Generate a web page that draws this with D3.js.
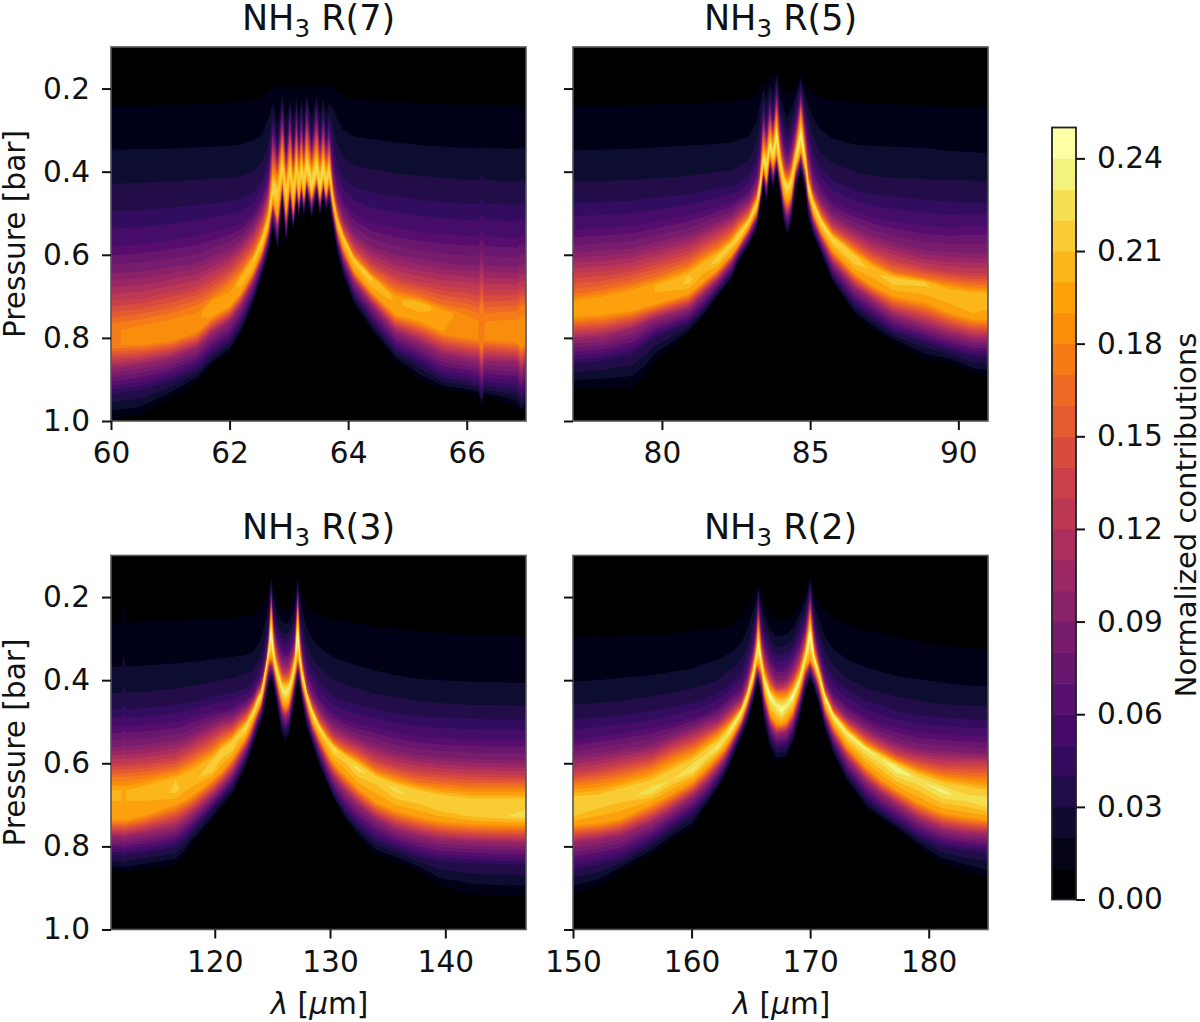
<!DOCTYPE html>
<meta charset="utf-8">
<script src="https://d3js.org/d3.v7.min.js"></script>
<style>
  body { margin: 0; background: #fff; }
  text { font-family: "DejaVu Sans", sans-serif; fill: #111; }
</style>
<div id="chart"></div>

<script>
    // each column at one wavelength:
    // [lambda, pressures where the upper side crosses levelsUp,
    //  pressure and value of the column's peak, pressures where the lower side crosses levelsLow]
    const levelsUp = [0.01, 0.02, 0.03, 0.04, 0.06, 0.09, 0.13, 0.17, 0.21];
    const levelsLow = [0.19, 0.10, 0.04, 0.01];

    const r7Columns = [
        [60, .242,.347,.429,.495,.58,.645,.71,.765,.785, .805,.178, .82,.875,.935,.995],
        [60.5, .241,.346,.427,.492,.575,.64,.705,.755,.775, .795,.184, .815,.865,.925,.985],
        [61, .239,.344,.424,.487,.565,.63,.69,.74,.765, .79,.186, .805,.85,.905,.945],
        [61.45, .238,.342,.42,.48,.555,.62,.675,.72,.75, .765,.186, .785,.825,.875,.905],
        [61.7, .236,.34,.417,.477,.545,.605,.655,.70,.715, .725,.198, .75,.79,.84,.865],
        [62, .234,.338,.415,.472,.535,.585,.63,.665,.69, .70,.19, .725,.76,.81,.835],
        [62.2, .232,.335,.41,.465,.525,.565,.60,.635,.655, .667,.206, .69,.72,.765,.79],
        [62.4, .227,.325,.40,.45,.50,.53,.565,.595,.61, .62,.21, .64,.665,.70,.72],
        [62.55, .218,.31,.375,.42,.46,.49,.52,.545,.56, .57,.215, .59,.61,.635,.65],
        [62.65, .205,.275,.335,.375,.415,.445,.47,.495,.51, .52,.22, .54,.56,.585,.60],
        [62.73, .19,.235,.255,.27,.295,.32,.35,.385,.42, .445,.225, .47,.49,.52,.54],
        [62.81, .203,.285,.32,.34,.355,.375,.395,.41,.44, .465,.215, .51,.54,.57,.593],
        [62.89, .185,.215,.228,.235,.255,.28,.305,.33,.37, .39,.225, .42,.44,.46,.48],
        [62.955, .205,.28,.32,.34,.355,.375,.395,.41,.44, .465,.215, .50,.53,.56,.57],
        [63.02, .19,.225,.238,.244,.265,.29,.315,.345,.375, .40,.22, .43,.45,.47,.49],
        [63.075, .205,.275,.31,.33,.35,.37,.39,.405,.43, .455,.215, .49,.515,.53,.545],
        [63.13, .188,.22,.235,.24,.26,.285,.31,.34,.37, .395,.225, .425,.445,.465,.48],
        [63.17, .203,.27,.30,.32,.34,.355,.375,.39,.415, .44,.215, .465,.485,.50,.52],
        [63.21, .19,.225,.24,.25,.27,.295,.32,.345,.375, .40,.225, .425,.44,.455,.47],
        [63.255, .203,.265,.30,.32,.335,.35,.37,.385,.41, .44,.215, .46,.48,.495,.515],
        [63.30, .185,.215,.225,.23,.25,.275,.30,.33,.36, .385,.23, .415,.43,.445,.46],
        [63.385, .205,.27,.30,.32,.335,.35,.37,.385,.41, .44,.225, .46,.48,.50,.52],
        [63.47, .186,.218,.23,.235,.255,.28,.305,.335,.365, .39,.23, .415,.43,.445,.46],
        [63.525, .203,.265,.30,.32,.335,.35,.37,.385,.41, .44,.225, .46,.48,.495,.512],
        [63.58, .19,.225,.24,.25,.27,.295,.32,.345,.37, .395,.23, .42,.435,.45,.465],
        [63.63, .202,.26,.30,.32,.335,.35,.37,.385,.41, .435,.22, .455,.47,.485,.50],
        [63.68, .19,.235,.255,.27,.29,.315,.335,.36,.38, .395,.23, .42,.44,.46,.48],
        [63.75, .197,.25,.30,.335,.385,.42,.44,.455,.465, .47,.22, .49,.505,.525,.54],
        [63.82, .208,.275,.335,.385,.43,.47,.49,.505,.515, .52,.218, .54,.56,.58,.60],
        [63.92, .218,.30,.365,.415,.47,.51,.535,.55,.555, .56,.218, .585,.61,.635,.655],
        [64.1, .224,.315,.385,.44,.50,.55,.58,.60,.61, .615,.214, .64,.665,.70,.72],
        [64.4, .228,.322,.395,.45,.525,.58,.62,.645,.655, .667,.21, .69,.72,.76,.785],
        [64.8, .232,.33,.405,.46,.535,.60,.65,.685,.705, .72,.198, .745,.785,.83,.855],
        [65.2, .235,.336,.41,.468,.545,.61,.665,.70,.715, .727,.205, .76,.81,.86,.90],
        [65.6, .237,.34,.415,.473,.55,.62,.675,.72,.735, .745,.195, .785,.84,.895,.925],
        [66, .239,.343,.42,.478,.555,.625,.68,.73,.75, .765,.183, .80,.85,.905,.932],
        [66.2, .239,.343,.42,.478,.555,.625,.685,.74,.76, .775,.18, .805,.855,.915,.938],
        [66.25, .238,.34,.41,.465,.54,.60,.655,.71,.745, .775,.175, .83,.885,.94,.965],
        [66.3, .239,.343,.42,.478,.555,.625,.685,.74,.76, .775,.18, .805,.855,.915,.94],
        [66.85, .24,.345,.425,.48,.56,.63,.685,.735,.76, .78,.182, .81,.86,.925,.965],
        [66.92, .238,.34,.42,.47,.55,.62,.675,.72,.75, .775,.18, .825,.885,.945,.985],
        [67, .24,.345,.427,.483,.564,.62,.677,.725,.755, .78,.184, .81,.86,.93,.967]
    ];

    const r5Columns = [
        [77, .242,.349,.425,.475,.54,.596,.644,.695,.715, .725,.196, .75,.805,.862,.922],
        [78, .241,.347,.423,.473,.535,.59,.64,.685,.705, .72,.195, .745,.80,.855,.92],
        [79, .24,.345,.42,.47,.53,.585,.63,.67,.69, .705,.198, .735,.78,.84,.918],
        [79.45, .239,.343,.418,.465,.525,.575,.62,.66,.68, .695,.199, .725,.765,.815,.89],
        [79.75, .238,.342,.417,.463,.52,.57,.615,.655,.675, .69,.20, .72,.755,.80,.858],
        [80.9, .236,.337,.41,.455,.505,.55,.59,.625,.65, .667,.212, .695,.73,.765,.79],
        [81.4, .234,.335,.405,.448,.495,.535,.57,.60,.62, .635,.205, .665,.695,.73,.75],
        [81.9, .232,.333,.40,.44,.485,.52,.55,.58,.60, .612,.218, .635,.66,.685,.70],
        [82.35, .23,.33,.397,.435,.475,.505,.53,.555,.57, .58,.212, .60,.62,.645,.66],
        [82.55, .228,.325,.39,.43,.465,.49,.515,.535,.55, .56,.222, .58,.595,.61,.625],
        [82.93, .226,.315,.372,.41,.445,.47,.49,.505,.515, .52,.225, .535,.55,.57,.58],
        [83.2, .21,.28,.325,.365,.405,.43,.45,.46,.47, .475,.23, .495,.51,.525,.54],
        [83.3, .195,.24,.285,.32,.36,.39,.41,.42,.43, .435,.235, .46,.47,.485,.50],
        [83.42, .185,.20,.22,.235,.255,.28,.30,.33,.355, .37,.23, .39,.405,.42,.44],
        [83.53, .185,.225,.26,.28,.30,.32,.335,.35,.37, .385,.23, .42,.44,.46,.48],
        [83.64, .172,.19,.205,.215,.235,.255,.275,.295,.32, .335,.235, .36,.375,.39,.41],
        [83.75, .175,.21,.24,.26,.28,.295,.31,.325,.345, .36,.23, .385,.41,.43,.45],
        [83.87, .157,.165,.175,.185,.20,.22,.24,.26,.29, .31,.24, .355,.37,.385,.40],
        [84, .19,.225,.25,.265,.285,.31,.335,.355,.37, .38,.23, .41,.43,.45,.47],
        [84.12, .205,.25,.28,.30,.33,.36,.385,.40,.415, .425,.225, .46,.485,.51,.53],
        [84.23, .214,.27,.30,.32,.35,.38,.40,.415,.43, .44,.225, .475,.505,.535,.556],
        [84.35, .205,.25,.28,.30,.33,.36,.385,.40,.415, .425,.225, .46,.485,.51,.53],
        [84.5, .19,.22,.24,.26,.285,.31,.33,.345,.36, .37,.23, .395,.41,.43,.45],
        [84.69, .165,.175,.185,.195,.21,.225,.24,.255,.285, .31,.24, .35,.365,.385,.40],
        [84.85, .185,.22,.245,.265,.29,.315,.335,.355,.37, .38,.235, .40,.42,.44,.46],
        [84.94, .195,.24,.27,.295,.33,.365,.395,.415,.425, .435,.235, .455,.47,.495,.52],
        [85.1, .21,.27,.315,.355,.395,.43,.45,.46,.47, .475,.23, .50,.52,.54,.555],
        [85.37, .222,.30,.355,.39,.435,.47,.49,.505,.515, .52,.228, .545,.565,.585,.60],
        [85.75, .228,.32,.38,.42,.47,.505,.53,.545,.555, .564,.222, .59,.62,.65,.665],
        [86.5, .234,.335,.40,.445,.495,.535,.565,.585,.60, .612,.218, .645,.68,.72,.745],
        [87.1, .236,.338,.41,.455,.51,.555,.59,.615,.63, .64,.208, .675,.71,.75,.78],
        [87.8, .238,.34,.415,.46,.52,.57,.61,.64,.655, .665,.215, .70,.745,.785,.81],
        [88.85, .24,.343,.418,.468,.53,.59,.63,.655,.665, .672,.212, .715,.77,.81,.85],
        [89.7, .243,.35,.42,.472,.535,.593,.64,.665,.685, .705,.205, .74,.79,.83,.86],
        [90.46, .245,.353,.422,.475,.53,.596,.644,.673,.695, .725,.21, .755,.803,.845,.885],
        [91, .246,.355,.423,.475,.53,.596,.644,.673,.695, .72,.205, .757,.805,.846,.894]
    ];

    const r3Columns = [
        [111, .262,.368,.431,.47,.511,.56,.60,.632,.665, .69,.20, .737,.777,.821,.861],
        [111.9, .262,.368,.431,.47,.511,.56,.60,.632,.665, .69,.20, .737,.777,.821,.861],
        [112.1, .205,.34,.415,.46,.505,.555,.598,.632,.665, .69,.198, .737,.78,.825,.865],
        [112.3, .262,.368,.431,.47,.511,.56,.60,.632,.665, .69,.20, .737,.777,.821,.861],
        [114, .26,.365,.428,.467,.508,.555,.595,.628,.655, .683,.202, .725,.77,.815,.855],
        [116.6, .258,.36,.42,.46,.50,.545,.585,.615,.64, .668,.212, .70,.755,.80,.845],
        [117.3, .257,.358,.417,.457,.497,.54,.575,.605,.63, .655,.208, .69,.74,.785,.825],
        [118, .256,.356,.413,.453,.49,.53,.565,.595,.62, .645,.205, .68,.725,.765,.795],
        [119.8, .254,.35,.405,.44,.475,.505,.535,.565,.59, .612,.22, .64,.68,.71,.74],
        [120.6, .252,.347,.40,.435,.47,.495,.52,.545,.565, .585,.212, .62,.655,.685,.71],
        [121.5, .25,.344,.395,.43,.465,.49,.51,.53,.545, .56,.222, .59,.625,.655,.68],
        [122.1, .248,.342,.39,.425,.455,.475,.495,.51,.525, .535,.216, .565,.595,.625,.645],
        [122.7, .245,.34,.385,.42,.445,.465,.48,.495,.505, .515,.226, .54,.565,.59,.61],
        [123.1, .243,.335,.38,.41,.435,.45,.465,.475,.485, .49,.222, .515,.54,.56,.58],
        [123.4, .24,.33,.37,.40,.425,.44,.45,.46,.47, .475,.235, .495,.515,.535,.555],
        [123.7, .232,.315,.355,.38,.405,.42,.43,.44,.445, .45,.23, .475,.49,.51,.53],
        [124, .225,.302,.342,.365,.39,.405,.415,.425,.43, .435,.24, .455,.47,.49,.51],
        [124.2, .215,.28,.32,.345,.37,.385,.395,.40,.405, .41,.235, .43,.445,.465,.485],
        [124.5, .198,.245,.275,.30,.325,.34,.35,.355,.358, .36,.24, .38,.40,.425,.445],
        [124.7, .178,.21,.235,.25,.27,.285,.30,.31,.318, .325,.245, .35,.37,.395,.415],
        [124.9, .149,.155,.16,.17,.18,.195,.21,.225,.25, .285,.25, .345,.365,.385,.40],
        [125.07, .17,.20,.22,.235,.25,.265,.28,.295,.315, .33,.245, .355,.375,.395,.415],
        [125.27, .19,.225,.25,.265,.285,.305,.325,.34,.355, .365,.24, .385,.405,.425,.445],
        [125.56, .215,.245,.27,.285,.31,.335,.355,.37,.385, .395,.235, .42,.445,.47,.495],
        [125.85, .228,.26,.285,.30,.33,.355,.38,.395,.41, .42,.235, .455,.48,.51,.54],
        [126.14, .23,.265,.29,.305,.335,.36,.385,.40,.415, .43,.235, .465,.49,.52,.552],
        [126.43, .228,.26,.285,.30,.33,.355,.38,.395,.41, .42,.235, .455,.48,.51,.54],
        [126.7, .215,.245,.27,.285,.31,.335,.355,.37,.385, .395,.235, .42,.445,.47,.495],
        [126.95, .19,.225,.25,.265,.285,.305,.325,.34,.35, .36,.24, .385,.405,.425,.445],
        [127.2, .149,.155,.16,.17,.18,.195,.21,.225,.25, .285,.25, .345,.365,.385,.40],
        [127.38, .178,.205,.225,.24,.26,.28,.30,.32,.335, .345,.245, .365,.385,.405,.42],
        [127.6, .195,.235,.265,.29,.32,.345,.36,.37,.38, .385,.24, .41,.425,.445,.46],
        [128, .218,.275,.315,.345,.38,.405,.42,.43,.432, .435,.24, .455,.475,.50,.52],
        [128.45, .235,.30,.345,.375,.41,.44,.455,.465,.472, .477,.235, .50,.52,.54,.555],
        [129.1, .245,.32,.37,.405,.445,.47,.49,.505,.51, .515,.228, .54,.565,.59,.61],
        [129.75, .25,.335,.385,.425,.465,.495,.515,.53,.54, .545,.218, .575,.605,.635,.65],
        [130.3, .254,.345,.40,.44,.48,.51,.535,.55,.558, .564,.225, .60,.635,.67,.685],
        [131.3, .259,.355,.41,.45,.495,.525,.55,.57,.58, .59,.215, .63,.67,.715,.735],
        [132.4, .263,.365,.42,.46,.505,.54,.565,.585,.60, .612,.225, .66,.70,.75,.775],
        [134, .27,.378,.433,.47,.515,.555,.59,.615,.63, .64,.215, .695,.735,.785,.82],
        [135.7, .275,.388,.44,.48,.525,.57,.605,.63,.65, .663,.225, .715,.76,.805,.835],
        [137.7, .282,.397,.45,.487,.535,.58,.615,.645,.665, .69,.215, .73,.775,.825,.86],
        [139.45, .286,.40,.455,.49,.54,.585,.62,.65,.675, .704,.218, .74,.785,.835,.895],
        [142.3, .29,.404,.46,.493,.543,.59,.625,.655,.685, .725,.214, .747,.79,.84,.915],
        [144.7, .292,.405,.46,.495,.543,.592,.627,.655,.685, .727,.218, .748,.792,.843,.918],
        [147, .294,.407,.463,.495,.544,.592,.628,.655,.685, .727,.225, .749,.793,.845,.919]
    ];

    const r2Columns = [
        [150, .298,.404,.459,.495,.544,.584,.62,.648,.68, .725,.212, .749,.793,.857,.914],
        [152.1, .296,.40,.455,.49,.535,.575,.612,.64,.675, .70,.215, .745,.785,.845,.897],
        [154, .294,.395,.45,.485,.528,.567,.60,.63,.66, .69,.212, .735,.775,.83,.86],
        [156.6, .292,.388,.44,.475,.515,.555,.585,.61,.64, .666,.228, .70,.745,.79,.82],
        [158.3, .288,.38,.43,.465,.505,.535,.56,.585,.615, .64,.22, .675,.715,.755,.785],
        [160.1, .282,.372,.42,.455,.49,.515,.54,.565,.59, .614,.232, .645,.68,.72,.755],
        [161.2, .278,.36,.41,.445,.48,.50,.525,.545,.565, .585,.225, .615,.65,.685,.705],
        [162.2, .275,.35,.40,.43,.465,.49,.51,.525,.545, .561,.232, .585,.615,.645,.665],
        [162.8, .272,.342,.385,.42,.45,.475,.495,.51,.525, .54,.228, .565,.59,.615,.635],
        [163.35, .27,.334,.375,.405,.435,.46,.48,.495,.505, .517,.235, .54,.56,.58,.60],
        [164.2, .25,.31,.35,.38,.415,.44,.455,.465,.47, .474,.24, .495,.51,.525,.54],
        [164.7, .222,.278,.318,.342,.375,.40,.415,.425,.432, .437,.245, .455,.47,.49,.505],
        [165.2, .197,.235,.265,.285,.315,.335,.35,.365,.375, .383,.24, .405,.42,.44,.455],
        [165.45, .18,.21,.23,.245,.265,.285,.305,.32,.335, .345,.24, .365,.385,.405,.42],
        [165.63, .17,.175,.18,.19,.205,.225,.24,.26,.285, .31,.245, .36,.38,.395,.41],
        [165.9, .195,.22,.24,.255,.28,.30,.32,.335,.35, .36,.24, .38,.405,.43,.45],
        [166.15, .22,.245,.265,.285,.31,.335,.36,.375,.39, .40,.24, .43,.455,.485,.51],
        [166.65, .245,.28,.30,.32,.35,.375,.40,.415,.43, .437,.245, .485,.51,.54,.57],
        [167.15, .255,.295,.32,.34,.37,.40,.42,.43,.445, .46,.235, .505,.53,.565,.595],
        [167.6, .256,.294,.32,.34,.37,.40,.42,.43,.45, .473,.245, .507,.527,.56,.596],
        [168, .255,.29,.315,.335,.365,.395,.415,.43,.445, .46,.235, .50,.525,.56,.59],
        [168.55, .24,.275,.30,.32,.345,.37,.395,.41,.425, .437,.245, .475,.50,.53,.555],
        [169.1, .215,.24,.26,.28,.31,.335,.36,.375,.39, .399,.24, .425,.45,.475,.495],
        [169.6, .19,.21,.23,.245,.265,.285,.305,.32,.335, .345,.24, .37,.39,.41,.43],
        [170, .149,.155,.165,.175,.19,.205,.225,.24,.26, .285,.245, .35,.365,.385,.40],
        [170.35, .19,.22,.24,.255,.275,.295,.315,.33,.34, .35,.245, .37,.39,.41,.425],
        [170.7, .21,.25,.28,.30,.325,.345,.355,.365,.375, .38,.24, .40,.42,.44,.46],
        [171.25, .232,.295,.33,.36,.39,.41,.42,.43,.435, .437,.245, .465,.485,.505,.52],
        [171.95, .25,.325,.365,.395,.43,.45,.465,.475,.48, .484,.24, .51,.535,.56,.58],
        [173.1, .265,.35,.395,.425,.46,.485,.50,.51,.52, .527,.235, .56,.59,.625,.645],
        [174.75, .28,.37,.42,.45,.49,.515,.535,.55,.56, .565,.235, .61,.645,.685,.71],
        [176, .288,.38,.43,.46,.505,.535,.555,.57,.58, .59,.23, .64,.675,.715,.735],
        [177.3, .295,.39,.44,.475,.515,.55,.575,.59,.60, .612,.24, .665,.70,.74,.76],
        [179.1, .305,.398,.45,.485,.525,.565,.59,.61,.625, .64,.228, .695,.735,.775,.80],
        [181.1, .315,.406,.458,.49,.53,.57,.60,.625,.645, .666,.235, .72,.76,.80,.84],
        [183.1, .322,.412,.461,.494,.534,.574,.60,.63,.655, .685,.225, .73,.77,.81,.86],
        [185, .325,.415,.463,.495,.535,.576,.60,.632,.665, .696,.23, .737,.773,.817,.877]
    ];

    const panelTitles = ["R(7)", "R(5)", "R(3)", "R(2)"];
    const panelColumns = [r7Columns, r5Columns, r3Columns, r2Columns];
    const xDomains = [[60, 67], [77, 91], [111, 147], [150, 185]];
    const xTicks = [[60, 62, 64, 66], [80, 85, 90], [120, 130, 140], [150, 160, 170, 180]];
    const pressureTicks = [0.2, 0.4, 0.6, 0.8, 1.0];
    const bandEdges = d3.range(0, 26).map(d => d / 100);
    const colorbarTicks = [0, 0.03, 0.06, 0.09, 0.12, 0.15, 0.18, 0.21, 0.24];

    const fontTick = 29.6;
    const lefts = [111, 573];
    const panelWidth = 415;
    const tops = [47, 555.5];
    const panelHeight = 374;

    const svg = d3.select("#chart")
        .append("svg")
        .attr("width", 1200)
        .attr("height", 1022);

    const defs = svg.append("defs");
    defs.append("filter")
        .attr("id", "soft")
        .attr("x", "-2%").attr("y", "-2%").attr("width", "104%").attr("height", "104%")
        .append("feGaussianBlur")
        .attr("stdDeviation", 0.7);

    const bandColor = i => d3.interpolateInferno(i / 24);

    function styleAxis(g) {
        g.selectAll("path").remove();
        g.selectAll("line").attr("stroke", "#111").attr("stroke-width", 2);
        g.selectAll("text").style("font-size", fontTick + "px").attr("fill", "#111");
    }

    function drawPanel(index) {
        const col = index % 2;
        const row = Math.floor(index / 2);
        const columns = panelColumns[index];
        const left = lefts[col];
        const top = tops[row];

        const x = d3.scaleLinear().domain(xDomains[index]).range([0, panelWidth]);
        const y = d3.scaleLinear().domain([0.1, 1.0]).range([0, panelHeight]);

        const g = svg.append("g").attr("transform", `translate(${left}, ${top})`);

        defs.append("clipPath").attr("id", "clip" + index)
            .append("rect").attr("width", panelWidth).attr("height", panelHeight);

        const plot = g.append("g").attr("clip-path", `url(#clip${index})`)
            .append("g").attr("filter", "url(#soft)");

        plot.append("rect")
            .attr("x", -5).attr("y", -5)
            .attr("width", panelWidth + 10).attr("height", panelHeight + 10)
            .attr("fill", bandColor(0));

        // rows of the curvilinear grid: top of the axis, upper crossings, peak, lower crossings, below the axis
        const nUp = levelsUp.length;
        const nx = columns.length;
        const ny = nUp + levelsLow.length + 3;
        const values = new Array(nx * ny);
        const pressures = d3.range(ny).map(() => new Array(nx));
        columns.forEach((c, i) => {
            const peak = c[nUp + 2];
            const rowP = [0.1, ...c.slice(1, nUp + 2), ...c.slice(nUp + 3), 1.2];
            const rowV = [0.004, ...levelsUp.map(l => Math.min(l, peak)), peak, ...levelsLow.map(l => Math.min(l, peak)), 0];
            rowP.forEach((p, j) => {
                pressures[j][i] = p;
                values[j * nx + i] = rowV[j];
            });
        });

        const contours = d3.contours()
            .size([nx, ny])
            .thresholds(bandEdges.slice(1, 25))(values);

        const clamp = (v, hi) => Math.max(0, Math.min(hi, v));
        const toPixel = d3.geoTransform({
            point(cx, cy) {
                const fi = clamp(cx - 0.5, nx - 1);
                const fj = clamp(cy - 0.5, ny - 1);
                const i0 = Math.min(Math.floor(fi), nx - 2), j0 = Math.min(Math.floor(fj), ny - 2);
                const ti = fi - i0, tj = fj - j0;
                const lam = columns[i0][0] * (1 - ti) + columns[i0 + 1][0] * ti;
                const pa = pressures[j0][i0] * (1 - tj) + pressures[j0 + 1][i0] * tj;
                const pb = pressures[j0][i0 + 1] * (1 - tj) + pressures[j0 + 1][i0 + 1] * tj;
                this.stream.point(x(lam), y(pa * (1 - ti) + pb * ti));
            }
        });
        const path = d3.geoPath(toPixel);

        plot.selectAll("path.band")
            .data(contours)
            .join("path")
            .attr("class", "band")
            .attr("d", path)
            .attr("fill", (d, i) => bandColor(i + 1));

        g.append("rect")
            .attr("width", panelWidth).attr("height", panelHeight)
            .attr("fill", "none").attr("stroke", "#555").attr("stroke-width", 1.6);

        g.append("g")
            .attr("transform", `translate(0, ${panelHeight})`)
            .call(d3.axisBottom(x).tickValues(xTicks[index]).tickSize(9).tickPadding(12).tickFormat(d3.format("d")))
            .call(styleAxis);

        g.append("g")
            .call(d3.axisLeft(y).tickValues(pressureTicks).tickSize(9).tickPadding(12)
                .tickFormat(col === 0 ? d3.format(".1f") : ""))
            .call(styleAxis);

        const title = g.append("text")
            .attr("x", panelWidth / 2)
            .attr("y", -17)
            .attr("text-anchor", "middle")
            .style("font-size", "35px");
        title.append("tspan").text("NH");
        title.append("tspan").attr("dy", 7).style("font-size", "24.5px").text("3");
        title.append("tspan").attr("dy", -7).text(" " + panelTitles[index]);

        if (col === 0) {
            g.append("text")
                .attr("transform", `translate(-86, ${panelHeight / 2 - 0}) rotate(-90)`)
                .attr("text-anchor", "middle")
                .style("font-size", fontTick + "px")
                .text("Pressure [bar]");
        }
        if (row === 1) {
            const label = g.append("text")
                .attr("x", panelWidth / 2 + 1)
                .attr("y", panelHeight + 84)
                .attr("text-anchor", "middle")
                .style("font-size", fontTick + "px");
            label.append("tspan").style("font-style", "italic").text("λ");
            label.append("tspan").text(" [");
            label.append("tspan").style("font-style", "italic").text("μ");
            label.append("tspan").text("m]");
        }
    }

    d3.range(4).forEach(drawPanel);

    // colour bar
    const cbY = d3.scaleLinear().domain([0, 0.25]).range([899.5, 127.5]);
    const cb = svg.append("g").attr("transform", "translate(1052, 0)");
    cb.selectAll("rect.band")
        .data(d3.range(25))
        .join("rect")
        .attr("class", "band")
        .attr("x", 0)
        .attr("y", d => cbY(bandEdges[d + 1]))
        .attr("width", 24)
        .attr("height", d => cbY(bandEdges[d]) - cbY(bandEdges[d + 1]) + 0.5)
        .attr("fill", d => bandColor(d));
    cb.append("rect")
        .attr("y", 127.5)
        .attr("width", 24).attr("height", 772)
        .attr("fill", "none").attr("stroke", "#222").attr("stroke-width", 1.8);
    cb.append("g")
        .attr("transform", "translate(24, 0)")
        .call(d3.axisRight(cbY).tickValues(colorbarTicks).tickSize(9).tickPadding(12).tickFormat(d3.format(".2f")))
        .call(styleAxis);
    svg.append("text")
        .attr("transform", "translate(1196, 515) rotate(-90)")
        .attr("text-anchor", "middle")
        .style("font-size", "29px")
        .text("Normalized contributions");
</script>
